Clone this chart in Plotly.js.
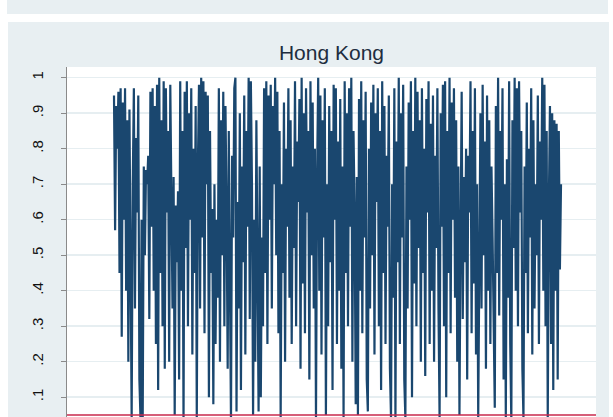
<!DOCTYPE html>
<html>
<head>
<meta charset="utf-8">
<script src="https://cdn.plot.ly/plotly-3.0.1.min.js"></script>
<style>
html,body{margin:0;padding:0;overflow:hidden;background:#fff;}
#chart{width:613px;height:470px;}
</style>
</head>
<body>
<div id="chart"></div>
<script>
// p-values series for Hong Kong
const pValues = [
.95,.57,.92,.80,.96,.45,.97,.27,.93,.60,
.97,.40,.88,.20,.91,.55,.04,.70,.97,.35,
.83,.62,.95,.15,.04,.60,.03,.75,.50,.74,
.70,.78,.32,.96,.58,.97,.40,.92,.25,.98,
.12,1.0,.45,.88,.30,.99,.18,.97,.62,.85,
.20,.98,.55,.35,.72,.05,.64,.48,.68,.15,
.99,.40,.85,.03,.96,.52,.99,.30,.90,.60,
.97,.22,.80,.45,.92,.04,.75,.98,.35,1.0,
.55,.99,.28,.96,.70,.95,.10,.85,.45,.63,
.08,.70,.25,.60,.38,.97,.20,.88,.50,.96,
.30,.92,.62,.18,.85,.42,.03,.78,.55,.97,
1.0,.06,.65,.35,.90,.12,.75,.48,.95,.22,
.85,.58,1.0,.32,.99,.70,.05,.60,.20,.88,
.40,.06,.75,.10,.55,.30,.97,.45,.99,.25,
.95,.60,.98,.35,.92,.70,1.0,.50,.96,.28,
.85,.04,.70,.45,.93,.20,.80,.58,.97,.38,
.88,.25,.75,.52,.99,.30,.82,.65,.94,.18,
1.0,.42,.90,.28,.97,.62,.85,.15,.99,.50,
.93,.35,.80,.04,.72,1.0,.40,.95,.22,.88,
.55,.97,.05,.70,.30,.92,.48,.85,.12,.98,
.60,.97,.25,.82,.40,.94,.18,.75,.04,.99,
.45,.90,.30,.97,.58,1.0,.20,.85,.62,.08,
.72,.05,.94,.40,.99,.28,.88,.55,.96,.15,
.06,.80,.35,.93,.50,.98,.22,.90,.65,.97,
.30,.85,.12,.99,.45,.92,.25,.78,.58,.95,
.18,.04,.70,.38,.97,.03,.82,.48,1.0,.25,
.90,.55,.98,.15,.04,.75,.35,.93,.60,.99,
.10,.85,.42,1.0,.30,.96,.52,.88,.20,.97,
.45,.80,.16,.94,.62,.99,.25,.87,.40,.95,
.20,.78,.52,.97,.35,.04,.90,.58,.98,.30,
.99,.10,.85,.45,1.0,.28,.93,.60,.97,.38,
.88,.20,.75,.05,.55,.96,.32,.72,.48,.80,
.15,.78,.62,.99,.28,.85,.42,.97,.22,.70,
.04,.60,.90,.35,.98,.50,.82,.18,.95,.40,
.88,.25,.75,.55,.30,.07,.92,.45,1.0,.33,
.85,.60,.97,.15,.70,.04,.77,.38,.99,.25,
.03,.88,.52,1.0,.40,.97,.30,.99,.62,.85,
.18,.04,.75,.45,.93,.28,.80,.55,.97,.22,
.88,.35,.70,.50,.95,.25,.82,.60,1.0,.40,
.98,.30,.85,.04,.65,.92,.25,.90,.12,.88,
.40,.87,.15,.85,.46,.70
];
const periods = pValues.map((v, i) => i + 1);
const yTickVals = [0.1,0.2,0.3,0.4,0.5,0.6,0.7,0.8,0.9,1];
const yTickText = ['.1','.2','.3','.4','.5','.6','.7','.8','.9','1'];
const refLine = 0.05;
const chartTitle = 'Hong Kong';

const n = periods.length;
const span = periods[n-1] - periods[0];
const xRange = [periods[0] - span*47/447, periods[n-1] + span*35/447];

const panel = '#e8eff2';
const data = [{
  x: periods, y: pValues, type: 'scatter', mode: 'lines',
  line: {color: '#1a476f', width: 2.2}, hoverinfo: 'skip'
}];
const layout = {
  width: 613, height: 470,
  margin: {l: 67, r: 17, t: 67, b: 27, pad: 0},
  paper_bgcolor: '#ffffff', plot_bgcolor: '#ffffff',
  showlegend: false,
  title: {text: chartTitle, x: 0.5, xref: 'paper', xanchor: 'center',
          y: 1 - 53/470, yref: 'container', yanchor: 'middle',
          font: {family: 'Liberation Sans, Arial, sans-serif', size: 21, color: '#1e2d40'}},
  xaxis: {visible: false, range: xRange, fixedrange: true},
  yaxis: {range: [-0.029, 1.030], tickvals: yTickVals, ticktext: yTickText,
          tickangle: -90, ticks: 'outside', ticklen: 5, tickcolor: '#8a8a8a', tickwidth: 1,
          ticklabelstandoff: 12,
          showline: true, linecolor: '#8a8a8a', linewidth: 1,
          showgrid: true, gridcolor: '#e6eef1', gridwidth: 1.5, zeroline: false,
          tickfont: {family: 'Liberation Sans, Arial, sans-serif', size: 15, color: '#111111'},
          fixedrange: true},
  shapes: [
    {type: 'rect', xref: 'paper', yref: 'paper', layer: 'below',
     x0: -60/529, x1: 541/529, y0: 1 + 53/376, y1: 1 + 80/376,
     fillcolor: panel, line: {width: 0}},
    {type: 'rect', xref: 'paper', yref: 'paper', layer: 'below',
     x0: -59/529, x1: 542/529, y0: -1, y1: 1 + 45/376,
     fillcolor: panel, line: {width: 0}},
    {type: 'rect', xref: 'paper', yref: 'paper', layer: 'below',
     x0: 0, x1: 1, y0: 0, y1: 1,
     fillcolor: '#ffffff', line: {width: 0}},
    {type: 'line', xref: 'paper', yref: 'y', layer: 'above',
     x0: 0, x1: 1, y0: refLine, y1: refLine,
     line: {color: '#c8284c', width: 1.5}}
  ]
};
Plotly.newPlot('chart', data, layout, {staticPlot: true, displayModeBar: false});
</script>
</body>
</html>
